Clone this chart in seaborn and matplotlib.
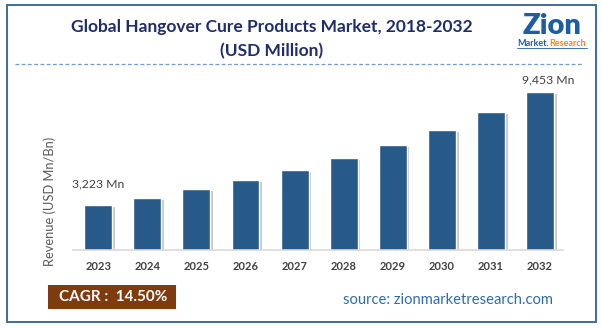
import matplotlib
matplotlib.use("Agg")
import matplotlib.pyplot as plt
import matplotlib.patheffects as pe
from matplotlib.patches import Rectangle
import seaborn as sns
import pandas as pd

years = ["2023", "2024", "2025", "2026", "2027", "2028", "2029", "2030", "2031", "2032"]
revenue = [3223, 3625, 4088, 4585, 5136, 5797, 6514, 7341, 8334, 9453]
labels = {"2023": "3,223 Mn", "2032": "9,453 Mn"}
title_lines = ["Global Hangover Cure Products Market, 2018-2032", "(USD Million)"]
ylabel = "Revenue (USD Mn/Bn)"
cagr_text = "CAGR :  14.50%"
source_text = "source: zionmarketresearch.com"

sns.set_theme(style="white")
plt.rcParams["font.family"] = ["Lato", "DejaVu Sans"]

W, H = 602, 330
fig = plt.figure(figsize=(W / 100, H / 100), dpi=100)

def fx(px):
    return px / W

def fy(py):
    return 1 - py / H

# outer border
fig.patches.append(Rectangle((fx(7), fy(322)), fx(595.5) - fx(7), fy(5) - fy(322),
                             transform=fig.transFigure, fill=False,
                             edgecolor="#3E6C9B", linewidth=1.4))

ax = fig.add_axes([fx(73), fy(250), fx(563) - fx(73), fy(70) - fy(250)])
df = pd.DataFrame({"Year": years, "Revenue": revenue})
sns.barplot(data=df, x="Year", y="Revenue", color="#285A89", width=0.57,
            saturation=1, ax=ax)
for p in ax.patches:
    p.set_path_effects([pe.SimplePatchShadow(offset=(2, -1.5), shadow_rgbFace="#888888", alpha=0.45),
                        pe.Normal()])

ax.set_xlim(-0.515, 9.47)
ax.set_ylim(742, 10665)
for s in ["top", "right", "left"]:
    ax.spines[s].set_visible(False)
ax.spines["bottom"].set_color("#D9D9D9")
ax.spines["bottom"].set_linewidth(1.2)
ax.set_yticks([])
ax.set_xlabel("")
ax.set_ylabel("")
ax.tick_params(axis="x", length=0, pad=8, labelsize=8, labelcolor="#404040")
for t in ax.get_xticklabels():
    t.set_fontweight("bold")

for i, y in enumerate(years):
    if y in labels:
        dx = 6 if i == len(years) - 1 else 0
        dy = 9 if i == len(years) - 1 else 15
        ax.annotate(labels[y], (i, revenue[i]), xytext=(dx, dy), textcoords="offset points",
                    ha="center", va="center", fontsize=8.8, color="#404040")

fig.text(fx(50), fy(201), ylabel, rotation=90, ha="center", va="center",
         fontsize=9.3, color="#595959")

# title
fig.text(fx(272), fy(27), title_lines[0], ha="center", va="center",
         fontsize=12.5, fontweight="bold", color="#1F2D6B")
fig.text(fx(272), fy(51), title_lines[1], ha="center", va="center",
         fontsize=12.5, fontweight="bold", color="#1F2D6B")

# dashed separator
fig.add_artist(plt.Line2D([fx(15), fx(583)], [fy(64), fy(64)], transform=fig.transFigure,
                          color="#6F9AD6", linewidth=0.9, linestyle=(0, (3, 2))))

# logo
fig.text(fx(552), fy(26), "Zion", ha="center", va="center", fontsize=21,
         fontweight="heavy", color="#1E5CA6")
fig.text(fx(533), fy(43.5), "Market.", ha="center", va="center", fontsize=6.5,
         fontweight="bold", color="#1E5CA6")
fig.text(fx(568), fy(43.5), "Research", ha="center", va="center", fontsize=6.5,
         fontweight="bold", color="#F08A1C")
fig.add_artist(plt.Line2D([fx(517), fx(587)], [fy(48), fy(48)], transform=fig.transFigure,
                          color="#1E5CA6", linewidth=0.6))

# CAGR box
fig.patches.append(Rectangle((fx(48), fy(309)), fx(176) - fx(48), fy(285) - fy(309),
                             transform=fig.transFigure, facecolor="#7E3B0F", edgecolor="none"))
fig.text(fx(113), fy(297), cagr_text, ha="center", va="center", fontsize=11,
         fontweight="bold", color="white")

fig.text(fx(448), fy(300), source_text, ha="center", va="center", fontsize=10.6,
         color="#2F6CA6")

fig.savefig("out.png", dpi=100)
